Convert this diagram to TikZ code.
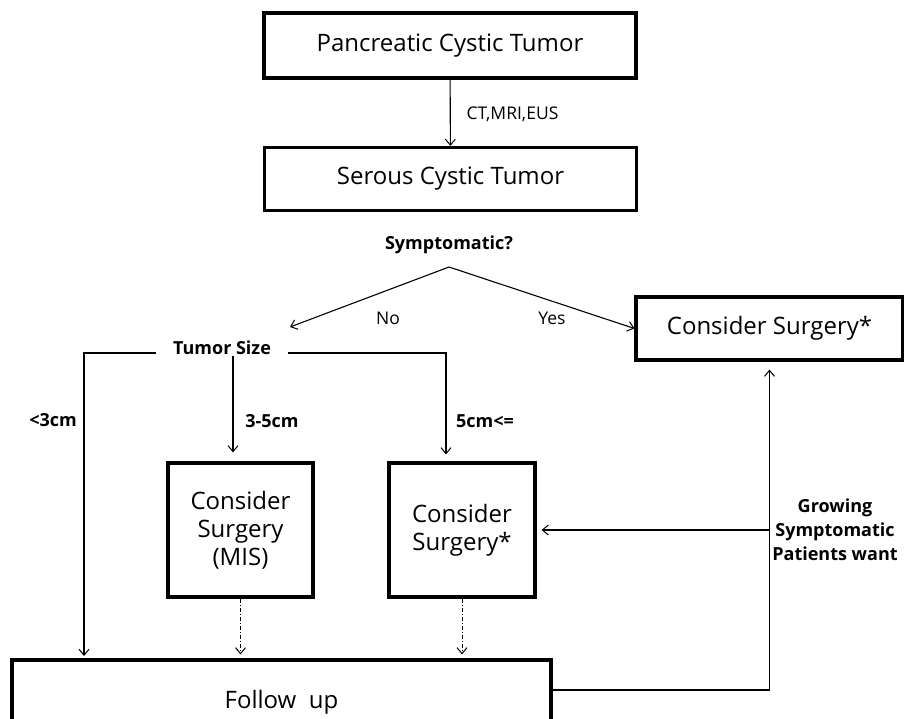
\documentclass[tikz,border=0pt]{standalone}
\usepackage{fontspec}
\setmainfont{Open Sans}
\usetikzlibrary{arrows.meta,calc}
\begin{document}
\begin{tikzpicture}[x=1pt,y=-1pt,
  box/.style={draw,line width=3.2pt,rectangle,inner sep=0pt,align=center},
  boxtxt/.style={font=\fontsize{24}{28}\selectfont},
  arr/.style={line width=1.1pt,-{Straight Barb[length=6pt,width=10pt,line width=1pt]}},
  darr/.style={line width=0.9pt,dash pattern=on 4pt off 2pt on 1pt off 2pt,-{Straight Barb[length=6pt,width=10pt,line width=1pt]}},
  lbl/.style={font=\fontsize{17.5}{20}\selectfont},
  blbl/.style={font=\bfseries\fontsize{18}{24}\selectfont,align=center}]
\clip (0,0) rectangle (904,718);
\fill[white] (0,0) rectangle (904,718);
% boxes
\node[box,boxtxt,minimum width=372pt,minimum height=65pt] (pct) at (450,45.5) {Pancreatic Cystic Tumor};
\node[box,boxtxt,minimum width=372pt,minimum height=63pt] (sct) at (450.5,179) {Serous Cystic Tumor};
\node[box,boxtxt,minimum width=267pt,minimum height=63pt] (cs1) at (769.5,328.5) {Consider Surgery*};
\node[box,boxtxt,minimum width=145pt,minimum height=134pt] (mis) at (240.5,530) {Consider\\Surgery\\(MIS)};
\node[box,boxtxt,minimum width=146pt,minimum height=134pt] (cs2) at (462,530) {Consider\\Surgery*};
\node[box,boxtxt,minimum width=539pt,minimum height=84pt] (fu) at (281.5,702) {Follow\ \ up};
% text nodes
\node[blbl] (sym) at (449,245) {Symptomatic?};
\node[blbl,inner xsep=17pt] (ts) at (222,348) {Tumor Size};
\node[blbl] (grow) at (835,530) {Growing\\Symptomatic\\Patients want};
% coordinates
\coordinate (apex) at (449,267);
\coordinate (notip) at (290,327);
\coordinate (lt) at (84,656);
\coordinate (br) at (769,530);
% connectors
\draw[arr] (pct) -- (sct);
\node[lbl,anchor=west] (ctl) at (463,114) {CT,MRI,EUS};
\draw[arr] (apex) -- (notip);
\node[lbl] (nol) at (388,318) {No};
\draw[arr] (apex) -- (cs1.west);
\node[lbl] (yesl) at (552,318) {Yes};
\draw[arr] ([yshift=-5pt]ts.west) -| (lt);
\node[blbl] (l3) at (53,420) {<3cm};
\draw[arr] ([xshift=11pt,yshift=2pt]ts.south) -- ([xshift=-7.5pt,yshift=9pt]mis.north);
\node[blbl] (l35) at (272,421) {3-5cm};
\draw[arr] ([yshift=-5pt]ts.east) -| ([xshift=-16pt,yshift=7pt]cs2.north);
\node[blbl] (l5) at (485,421) {5cm<=};
\draw[darr] (mis.south) -- ([yshift=4pt]mis.south |- fu.north);
\draw[darr] (cs2.south) -- ([yshift=4pt]cs2.south |- fu.north);
\draw[arr] ([yshift=12pt]fu.east) -| ([yshift=-8pt]cs1.south);
\draw[arr] (br) -- ([xshift=5pt]cs2.east);
\end{tikzpicture}
\end{document}
